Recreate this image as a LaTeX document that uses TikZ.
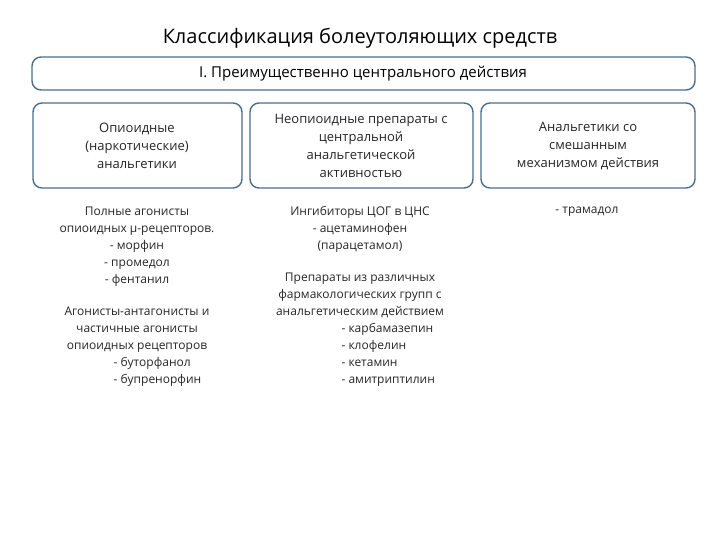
\documentclass[tikz,border=0pt]{standalone}
\usepackage{fontspec}
\setmainfont{Open Sans}
\definecolor{bord}{RGB}{75,110,140}
\begin{document}
\begin{tikzpicture}[x=1pt,y=-1pt,
 hbox/.style={draw=bord,line width=1.4pt,rounded corners=9pt,fill=white,inner sep=0pt},
 txt/.style={align=center,font=\fontsize{12}{17}\selectfont,text=black!85},
 lst/.style={align=left,font=\fontsize{12}{17}\selectfont,text=black!85},
 ht/.style={align=center,font=\fontsize{13}{18}\selectfont,text=black!85}]
\useasboundingbox (0,0) rectangle (720,540);
\node[font=\fontsize{20}{22}\selectfont] (title) at (360,38) {Классификация болеутоляющих средств};
\draw[hbox] (32,57) rectangle (695,90);
\node[font=\fontsize{15}{17}\selectfont] (top) at (363,74) {I. Преимущественно центрального действия};
\draw[hbox] (33,103) rectangle (242,188);
\draw[hbox] (250,103) rectangle (473,188);
\draw[hbox] (481,103) rectangle (695,188);
\node[ht] (b1) at (137,146) {Опиоидные\\(наркотические)\\анальгетики};
\node[ht] (b2) at (361,146) {Неопиоидные препараты с\\центральной\\анальгетической\\активностью};
\node[ht] (b3) at (588,146) {Анальгетики со\\смешанным\\механизмом действия};
\node[txt,anchor=north] (l1) at (137,203) {Полные агонисты\\опиоидных μ-рецепторов.\\- морфин\\- промедол\\- фентанил};
\node[txt,anchor=north] (l2) at (137,303) {Агонисты-антагонисты и\\частичные агонисты\\опиоидных рецепторов};
\node[lst,anchor=north west] (l3) at (110,354) {- буторфанол\\- бупренорфин};
\node[txt,anchor=north] (m1) at (360,203) {Ингибиторы ЦОГ в ЦНС\\- ацетаминофен\\(парацетамол)};
\node[txt,anchor=north] (m2) at (360,269) {Препараты из различных\\фармакологических групп с\\анальгетическим действием};
\node[lst,anchor=north west] (m3) at (338,320) {- карбамазепин\\- клофелин\\- кетамин\\- амитриптилин};
\node[txt,anchor=north] (r1) at (587,203) {- трамадол};
\end{tikzpicture}
\end{document}
